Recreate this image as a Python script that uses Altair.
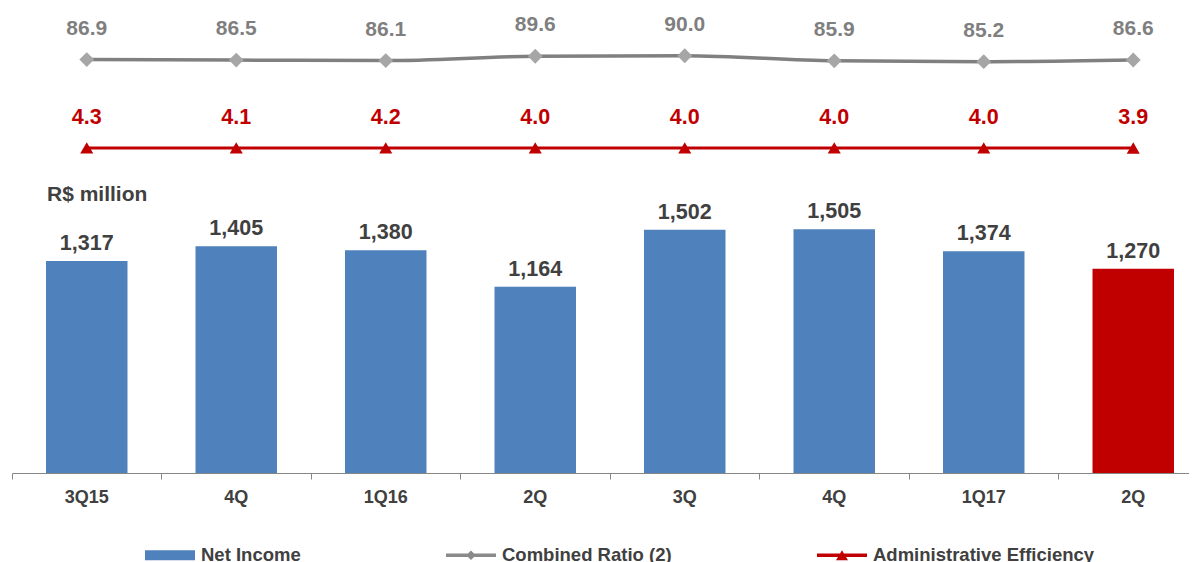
import altair as alt
import pandas as pd

quarters = ["3Q15", "4Q", "1Q16", "2Q", "3Q", "4Q", "1Q17", "2Q"]
net_income = [1317, 1405, 1380, 1164, 1502, 1505, 1374, 1270]
combined_ratio = [86.9, 86.5, 86.1, 89.6, 90.0, 85.9, 85.2, 86.6]
admin_eff = [4.3, 4.1, 4.2, 4.0, 4.0, 4.0, 4.0, 3.9]
bar_colors = ["#4f81bd"] * 7 + ["#c00000"]

series_names = ["Net Income", "Combined Ratio (2)", "Administrative Efficiency"]
series_colors = ["#4f81bd", "#8a8a8a", "#c00000"]
series_shapes = [
    "M-1,-0.2H1V0.2H-1Z",
    "M-1,-0.07H1V0.07H-1Z M0,-0.19L0.19,0L0,0.19L-0.19,0Z",
    "M-1,-0.07H1V0.07H-1Z M0,-0.2L0.24,0.2L-0.24,0.2Z",
]

FONT = "Liberation Sans"
DARK = "#404040"

df = pd.DataFrame({
    "idx": list(range(len(quarters))),
    "ni": net_income,
    "cr": combined_ratio,
    "ae": admin_eff,
    "bar_color": bar_colors,
})

label_expr = "[" + ",".join(f"'{q}'" for q in quarters) + "][datum.value]"

x_enc = alt.X(
    "idx:O",
    scale=alt.Scale(range=[0, 1196], paddingInner=0, paddingOuter=0),
    axis=alt.Axis(
        title=None, labelExpr=label_expr, labelAngle=0, bandPosition=0,
        domainColor="#868686", tickColor="#868686",
        tickSize=6, labelFont=FONT, labelFontSize=18, labelFontWeight="bold",
        labelColor=DARK, labelPadding=9, grid=False,
    ),
)

base = alt.Chart(df)

ni_scale = alt.Scale(domain=[57, 2808], zero=False, nice=False)
bars = base.mark_bar(width={"band": 0.545}).encode(
    x=x_enc,
    y=alt.Y("ni:Q", scale=ni_scale, axis=None),
    y2=alt.datum(57),
    color=alt.Color("bar_color:N", scale=None),
)
bar_labels = base.mark_text(
    dy=-17, baseline="middle", font=FONT, fontSize=21.5, fontWeight="bold", color=DARK
).encode(
    x=x_enc,
    y=alt.Y("ni:Q", scale=ni_scale, axis=None),
    text=alt.Text("ni:Q", format=","),
)

cr_scale = alt.Scale(domain=[-246.5, 126.9], zero=False, nice=False)
cr_line = base.mark_line(color="#808080", strokeWidth=3.5, interpolate="monotone").encode(
    x=x_enc, y=alt.Y("cr:Q", scale=cr_scale, axis=None)
)
cr_pts = base.mark_point(shape="diamond", filled=True, size=220, color="#a6a6a6", opacity=1).encode(
    x=x_enc, y=alt.Y("cr:Q", scale=cr_scale, axis=None)
)
cr_labels = base.mark_text(
    dy=-31, baseline="middle", font=FONT, fontSize=21, fontWeight="bold", color="#7f7f7f"
).encode(
    x=x_enc, y=alt.Y("cr:Q", scale=cr_scale, axis=None),
    text=alt.Text("cr:Q", format=".1f"),
)

ae_scale = alt.Scale(domain=[-1400, 600], zero=False, nice=False)
ae_line = base.mark_line(color="#c00000", strokeWidth=3).encode(
    x=x_enc, y=alt.Y("ae:Q", scale=ae_scale, axis=None)
)
ae_pts = base.mark_point(shape="triangle-up", filled=True, size=170, color="#c00000", opacity=1).encode(
    x=x_enc, y=alt.Y("ae:Q", scale=ae_scale, axis=None)
)
ae_labels = base.mark_text(
    dy=-30, baseline="middle", font=FONT, fontSize=21.5, fontWeight="bold", color="#c00000"
).encode(
    x=x_enc, y=alt.Y("ae:Q", scale=ae_scale, axis=None),
    text=alt.Text("ae:Q", format=".1f"),
)

unit_df = pd.DataFrame({"t": ["R$ million"]})
unit_text = alt.Chart(unit_df).mark_text(
    align="left", baseline="middle", font=FONT, fontSize=21, fontWeight="bold", color=DARK
).encode(x=alt.value(35), y=alt.value(185), text="t:N")

leg = alt.Legend(
    orient="none", legendX=133, legendY=520, direction="horizontal", title=None,
    symbolSize=2500, symbolStrokeWidth=0, symbolOpacity=1, labelFont=FONT,
    labelFontSize=18.5, labelFontWeight="bold", labelColor=DARK, labelOffset=6,
    columnPadding=145, padding=0, labelLimit=400,
)
legend_df = pd.DataFrame({"series": series_names})
legend_layer = alt.Chart(legend_df).mark_point(filled=True, opacity=0).encode(
    x=alt.value(0), y=alt.value(0),
    color=alt.Color("series:N", scale=alt.Scale(domain=series_names, range=series_colors), legend=leg),
    shape=alt.Shape("series:N", scale=alt.Scale(domain=series_names, range=series_shapes), legend=leg),
)

chart = alt.layer(
    bars, bar_labels, cr_line, cr_pts, cr_labels, ae_line, ae_pts, ae_labels, unit_text, legend_layer
).resolve_scale(y="independent").properties(
    width=1177, height=463,
    autosize=alt.AutoSizeParams(type="none"),
    padding={"left": 4, "top": 2, "right": 0, "bottom": 89},
).configure_view(stroke=None)

chart.save("out.html", embed_options={"renderer": "svg", "actions": False})
